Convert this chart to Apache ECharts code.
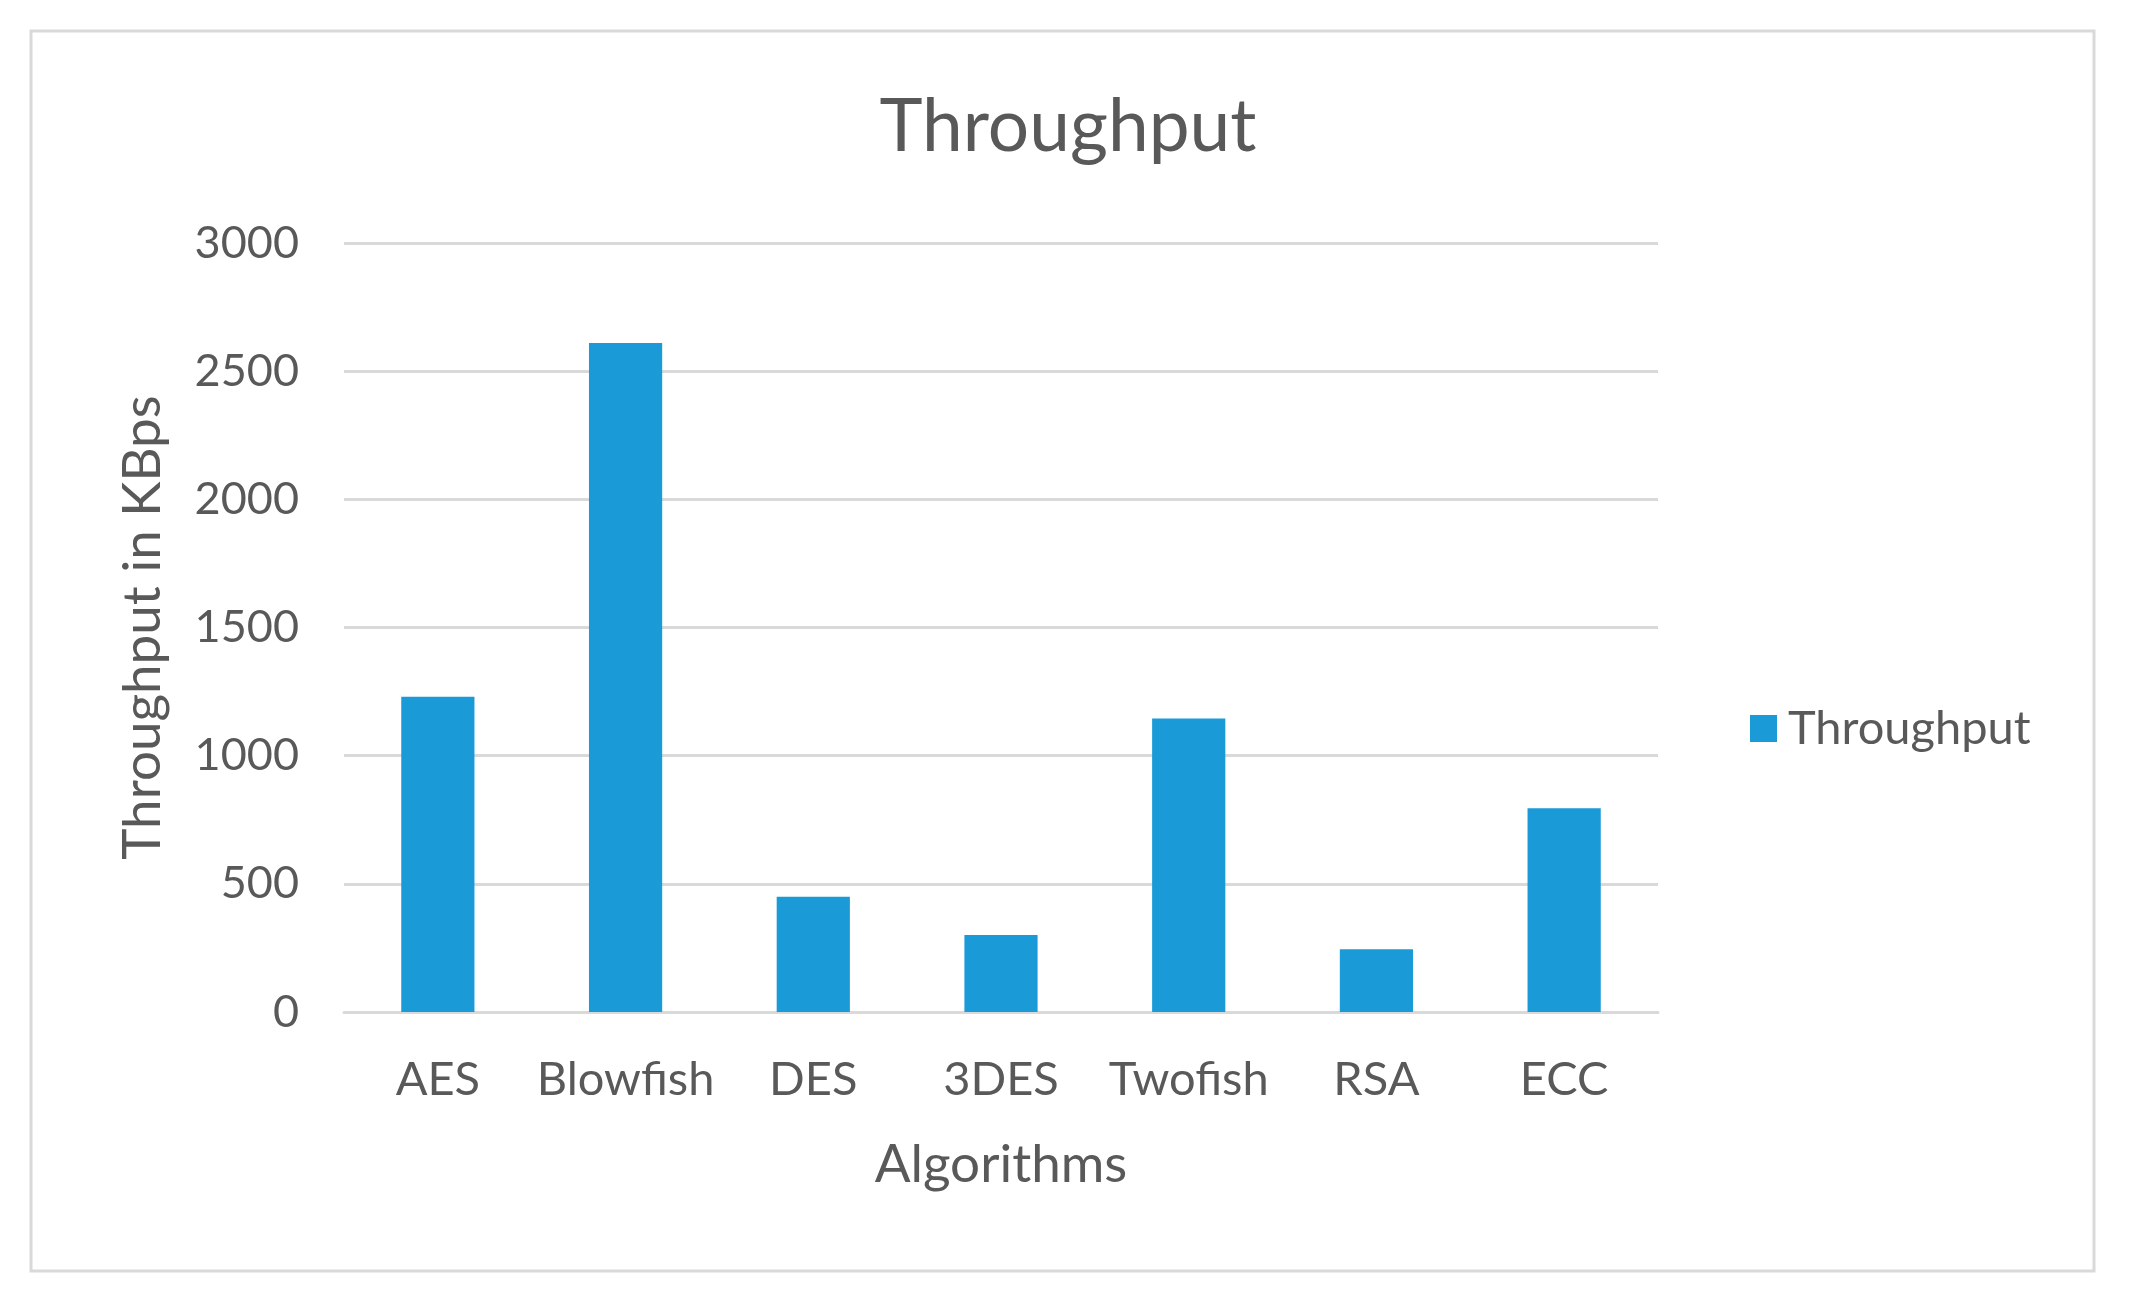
<!DOCTYPE html>
<html>
<head>
<meta charset="utf-8">
<script src="https://cdn.jsdelivr.net/npm/echarts@6/dist/echarts.min.js"></script>
<style>
html,body{margin:0;padding:0;background:#fff;}
#c{width:2131px;height:1302px;}
</style>
</head>
<body>
<div id="c"></div>
<script>
const categories = ['AES', 'Blowfish', 'DES', '3DES', 'Twofish', 'RSA', 'ECC'];
const throughput = [1230, 2610, 450, 300, 1145, 245, 795];
const yTicks = [0, 500, 1000, 1500, 2000, 2500, 3000];

const FONT = 'Lato';
const TXT = '#595959';
const chart = echarts.init(document.getElementById('c'), null, {renderer: 'canvas'});
chart.setOption({
  backgroundColor: '#ffffff',
  animation: false,
  graphic: [{
    type: 'rect',
    shape: {x: 31, y: 31, width: 2063, height: 1240},
    style: {fill: 'none', stroke: '#d9d9d9', lineWidth: 3},
    silent: true
  }],
  title: {
    text: 'Throughput',
    left: 1063,
    textAlign: 'center',
    top: 86,
    textStyle: {fontFamily: FONT, fontSize: 73, fontWeight: 'normal', color: TXT}
  },
  legend: {
    data: ['Throughput'],
    left: 1745,
    top: 700,
    icon: 'rect',
    itemWidth: 27,
    itemHeight: 27,
    itemGap: 10,
    textStyle: {fontFamily: FONT, fontSize: 47, color: TXT, padding: [0, 0, 0, 6]}
  },
  grid: {left: 344, right: 473, top: 243, bottom: 290, containLabel: false},
  xAxis: {
    type: 'category',
    data: categories,
    name: 'Algorithms',
    nameLocation: 'middle',
    nameGap: 126,
    nameTextStyle: {fontFamily: FONT, fontSize: 53, color: TXT},
    axisLine: {show: true, lineStyle: {color: '#d9d9d9', width: 3}},
    axisTick: {show: false},
    axisLabel: {fontFamily: FONT, fontSize: 47, color: TXT, margin: 44, interval: 0}
  },
  yAxis: {
    type: 'value',
    min: yTicks[0],
    max: yTicks[yTicks.length - 1],
    interval: yTicks[1] - yTicks[0],
    name: 'Throughput in KBps',
    nameLocation: 'middle',
    nameRotate: 90,
    nameGap: 175,
    nameTextStyle: {fontFamily: FONT, fontSize: 53, color: TXT},
    axisLine: {show: false},
    axisTick: {show: false},
    splitLine: {show: true, lineStyle: {color: '#d9d9d9', width: 3}},
    axisLabel: {fontFamily: FONT, fontSize: 45, color: TXT, margin: 45, formatter: function (v) { return String(v); }}
  },
  series: [{
    name: 'Throughput',
    type: 'bar',
    data: throughput,
    barWidth: '39%',
    itemStyle: {color: '#1a9bd7'}
  }]
});
</script>
</body>
</html>
